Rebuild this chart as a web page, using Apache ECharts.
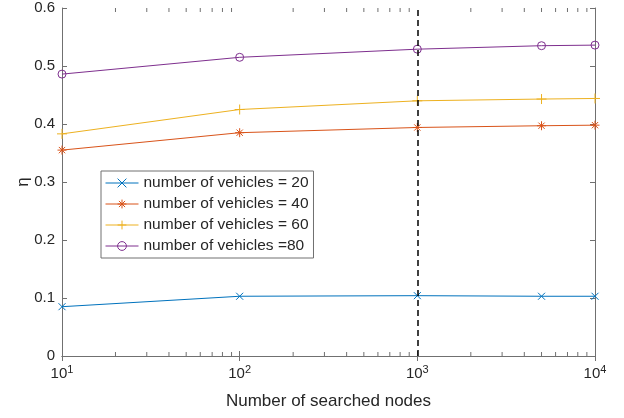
<!DOCTYPE html>
<html>
<head>
<meta charset="utf-8">
<script src="https://cdn.jsdelivr.net/npm/echarts@6/dist/echarts.min.js"></script>
<style>html,body{margin:0;padding:0;background:#fff;}#c{width:624px;height:418px;}</style>
</head>
<body>
<div id="c"></div>
<script>
const xNodes = [10, 100, 1000, 5000, 10000];
const seriesNames = ['number of vehicles = 20', 'number of vehicles = 40', 'number of vehicles = 60', 'number of vehicles =80'];
const v20 = [0.085, 0.103, 0.104, 0.103, 0.103];
const v40 = [0.355, 0.385, 0.394, 0.397, 0.398];
const v60 = [0.383, 0.425, 0.440, 0.443, 0.444];
const v80 = [0.486, 0.515, 0.529, 0.535, 0.536];
const yTicks = [0, 0.1, 0.2, 0.3, 0.4, 0.5, 0.6];
const refX = 1000;
const minorX = [20,30,40,50,60,70,80,90,200,300,400,500,600,700,800,900,2000,3000,4000,5000,6000,7000,8000,9000];

const colors = ['#0072BD', '#D95319', '#EDB120', '#7E2F8E'];
const axisColor = '#707070';
const textColor = '#262626';
const font = 'Liberation Sans, Arial, sans-serif';

const symX = 'path://M0 0 L10 10 M10 0 L0 10';
const symPlus = 'path://M5 0 L5 10 M0 5 L10 5';
const symStar = 'path://M5 0 L5 10 M0 5 L10 5 M1.5 1.5 L8.5 8.5 M8.5 1.5 L1.5 8.5';
const symCircle = 'path://M10 5 A5 5 0 1 1 0 5 A5 5 0 1 1 10 5 Z';

function pairs(vals){ return xNodes.map((x,i)=>[x, vals[i]]); }

function mkSeries(name, vals, color, symbol, size){
  return {
    name, type: 'line', data: pairs(vals),
    symbol, symbolSize: size,
    showAllSymbol: true,
    lineStyle: {color, width: 1},
    itemStyle: {color: 'rgba(0,0,0,0)', borderColor: color, borderWidth: 1},
    emphasis: {disabled: true},
    z: 3
  };
}

const chart = echarts.init(document.getElementById('c'));
const xCommon = {
  type: 'log', logBase: 10, min: 10, max: 10000,
  axisLine: {show: true, lineStyle: {color: axisColor, width: 1}},
  axisTick: {show: true, inside: true, length: 5, lineStyle: {color: axisColor}},
  splitLine: {show: false}, minorTick: {show: false}
};
const yCommon = {
  type: 'value', min: yTicks[0], max: yTicks[yTicks.length-1], interval: 0.1,
  axisLine: {show: true, lineStyle: {color: axisColor, width: 1}},
  axisTick: {show: true, inside: true, length: 5, lineStyle: {color: axisColor}},
  splitLine: {show: false}
};
chart.setOption({
  animation: false,
  backgroundColor: '#fff',
  grid: {left: 62, right: 29, top: 8, bottom: 62, containLabel: false},
  xAxis: [
    Object.assign({}, xCommon, {
      position: 'bottom',
      name: 'Number of searched nodes', nameLocation: 'middle', nameGap: 37,
      nameMoveOverlap: false,
      nameTextStyle: {color: textColor, fontSize: 17, fontFamily: font},
      axisLabel: {
        margin: 8, color: textColor, fontSize: 15, fontFamily: font,
        formatter: v => '10{sup|' + Math.round(Math.log10(v)) + '}',
        rich: {sup: {fontSize: 11, verticalAlign: 'bottom', padding: [0,0,9,0], color: textColor, fontFamily: font}}
      }
    }),
    Object.assign({}, xCommon, {position: 'top', axisLabel: {show: false}})
  ],
  yAxis: [
    Object.assign({}, yCommon, {
      position: 'left',
      name: 'η', nameLocation: 'middle', nameGap: 30, nameRotate: 90,
      nameMoveOverlap: false,
      nameTextStyle: {color: textColor, fontSize: 17, fontFamily: font},
      axisLabel: {margin: 7, color: textColor, fontSize: 15, fontFamily: font}
    }),
    Object.assign({}, yCommon, {position: 'right', axisLabel: {show: false}})
  ],
  legend: {
    data: seriesNames,
    orient: 'vertical', left: 101, top: 171,
    padding: [3, 5, 3, 4],
    itemWidth: 33, itemHeight: 11, itemGap: 3,
    borderColor: axisColor, borderWidth: 1, backgroundColor: '#fff',
    lineStyle: {width: 1},
    itemStyle: {borderWidth: 1},
    textStyle: {color: textColor, fontSize: 15.5, lineHeight: 18, fontFamily: font},
    selectedMode: false
  },
  series: [
    mkSeries(seriesNames[0], v20, colors[0], symX, 7),
    mkSeries(seriesNames[1], v40, colors[1], symStar, 9),
    mkSeries(seriesNames[2], v60, colors[2], symPlus, 10),
    mkSeries(seriesNames[3], v80, colors[3], symCircle, 8),
    {
      name: 'ref', type: 'line', data: [], silent: true,
      markLine: {
        silent: true, symbol: ['none','none'], label: {show: false},
        lineStyle: {color: '#000', width: 1.5, type: [6, 4]},
        data: [{xAxis: refX}]
      },
      z: 2
    },
    {
      name: 'minor', type: 'custom', silent: true, z: 1,
      data: minorX.map(x => [x]),
      renderItem: function(params, api){
        const x = api.value(0);
        const b = api.coord([x, yTicks[0]]);
        const t = api.coord([x, yTicks[yTicks.length-1]]);
        const st = {stroke: axisColor, lineWidth: 1};
        return {type: 'group', children: [
          {type: 'line', shape: {x1: b[0], y1: b[1], x2: b[0], y2: b[1]-4}, style: st},
          {type: 'line', shape: {x1: t[0], y1: t[1], x2: t[0], y2: t[1]+4}, style: st}
        ]};
      }
    }
  ]
});
</script>
</body>
</html>
